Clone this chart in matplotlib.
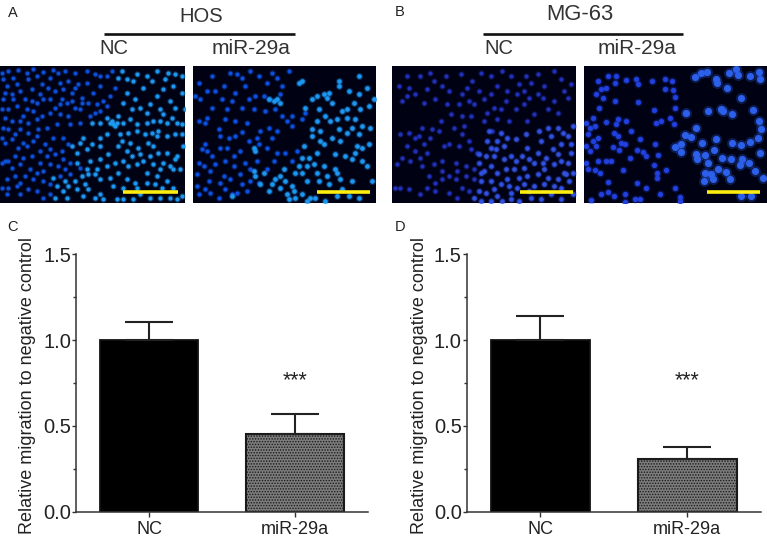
import matplotlib
matplotlib.use('Agg')
import matplotlib.pyplot as plt

plt.rcParams['font.family'] = ['Liberation Sans', 'DejaVu Sans']
plt.rcParams['hatch.linewidth'] = 0.7

W, H = 767, 539

groups = ['NC', 'miR-29a']
hos_means = [1.0, 0.45]
hos_err = [0.105, 0.12]
mg63_means = [1.0, 0.31]
mg63_err = [0.14, 0.065]
y_ticks = [0.0, 0.5, 1.0, 1.5]
y_minor = [0.25, 0.75, 1.25]

a1_dim = [(10,38),(40,35),(20,60),(8,100),(35,85),(60,75),(75,100),(85,40),(110,30),(125,55),(150,35),(175,20),(180,50),(165,75),(185,100),(205,45),(215,80),(235,55),(245,95),(225,125),(200,110),(165,125),(130,100),(110,110),(100,135),(80,130),(50,120),(25,130),(15,155),(35,165),(10,185),(25,190),(60,165),(85,170),(110,160),(125,150),(150,140),(180,145),(205,150),(240,130),(265,110),(280,80),(300,60),(320,30),(335,15),(345,65),(330,90),(290,115),(310,105),(270,150),(300,135),(320,120),(45,205),(70,230),(55,245),(80,240),(100,225),(110,210),(135,235),(160,215),(150,250),(165,265),(140,270),(120,290),(150,295),(175,300),(195,310),(210,325),(90,310),(60,295),(35,305),(15,285),(5,290),(25,285),(75,330),(100,340),(130,345),(150,355),(25,365),(50,360),(5,365),(20,385),(60,385),(85,370),(110,375),(130,395),(150,385),
          (5,20),(25,15),(55,12),(80,20),(100,10),(130,18),(160,12),(195,15),(225,20),(260,15),(285,25),(15,80),(50,55),(95,70),(145,65),(190,70),(225,65),(260,50),(300,30),(5,130),(40,100),(70,150),(95,105),(120,85),(150,100),(180,115),(245,110),(215,105),(285,140),(240,170),(210,175),(170,175),(140,185),(115,190),(85,200),(60,190),(35,220),(15,230),(5,215),(190,215),(205,235),(185,255),(120,255),(95,270),(70,275),(45,270),(190,280),(210,290),(240,305),(45,330),(20,340),(60,350),(110,320),(130,315),(180,330)]
a1_bright = [(410,25),(400,45),(380,40),(355,35),(470,15),(505,20),(525,25),(495,40),(490,70),(545,30),(430,65),(405,100),(450,115),(480,130),(490,145),(525,125),(420,125),(460,165),(480,165),(500,170),(515,155),(530,170),(545,175),(335,165),(345,180),(355,150),(320,155),(300,170),(275,170),(410,175),(440,170),(385,200),(410,195),(475,195),(470,210),(360,205),(320,205),(300,215),(250,215),(240,230),(215,240),(230,260),(260,250),(275,235),(355,240),(365,225),(390,230),(415,245),(445,230),(460,240),(550,240),(530,270),(525,280),(490,290),(510,300),(540,310),(475,260),(450,270),(420,265),(395,270),(370,285),(385,300),(410,295),(325,265),(300,240),(290,310),(260,310),(230,290),(205,360),(225,345),(265,325),(285,325),(320,300),(355,320),(380,340),(405,350),(410,365),(440,320),(470,330),(500,345),(520,310),(480,310),(160,335),(170,360),(195,345),(300,385),(285,395),(340,360),(370,365),(420,385),(230,370),(265,370),(350,400),(310,400),(400,400),(530,400),(545,390),(165,395),
             (365,15),(440,30),(455,45),(520,60),(470,90),(380,80),(370,110),(395,130),(440,140),(510,105),(545,80),(555,130),(340,175),(330,172),(350,170),(370,170),(390,160),(435,205),(455,200),(500,210),(525,205),(545,205),(380,255),(430,285),(460,295),(500,260),(345,290),(300,280),(270,285),(245,330),(255,355),(300,340),(330,335),(440,350),(465,355),(485,365),(520,365),(250,390),(200,395),(190,375),(450,395),(480,395),(510,395),(370,400)]

a2_dim = [(60,30),(20,50),(70,75),(95,60),(90,100),(25,100),(115,20),(150,35),(175,15),(190,90),(150,125),(105,130),(185,130),(220,135),(45,155),(20,165),(40,170),(100,160),(130,165),(165,170),(230,185),(205,195),(150,198),(130,210),(85,210),(110,215),(170,225),(40,235),(30,250),(45,255),(85,245),(105,245),(200,235),(240,215),(280,260),(300,180),(300,150),(285,165),(330,160),(340,140),(255,35),(270,60),(265,85),(240,20),(290,15),(215,90),(230,100),(35,300),(55,315),(15,325),(95,330),(100,285),(60,270),(125,300),(160,290),(195,285),(245,285),(15,360),(40,370),(55,380),(85,350),(115,340),(145,325),(20,385),(80,395),(120,385),(135,380),(165,375),(100,370),(200,350),
          (135,25),(200,30),(225,50),(160,60),(130,80),(45,75),(10,90),(60,125),(120,105),(170,100),(250,130),(270,150),(80,190),(195,215),(225,245),(145,255),(125,270),(70,295),(20,290),(175,310),(225,310),(50,345),(150,355),(175,345),(255,260),(300,285),(315,255),(255,195)]
a2_bright = [(320,50),(330,45),(395,85),(410,80),(375,90),(405,95),(440,60),(470,75),(500,85),(525,65),(505,130),(465,130),(450,135),(485,110),(490,160),(435,160),(415,165),(375,165),(360,190),(385,195),(420,215),(445,225),(535,185),(510,180),(480,185),(465,155),(230,100),(245,105),(265,112),(255,100),(385,225),(395,235),(375,260),(335,240),(330,275),(350,275),(495,240),(510,245),(490,262),(460,270),(480,280),(510,285),(525,300),(395,300),(430,310),(435,320),(375,320),(380,345),(445,340),(410,355),(320,300),(310,320),(345,345),(330,320),(275,310),(265,330),(250,340),(215,320),(185,315),(190,330),(240,355),(205,355),(300,360),(305,375),(285,385),(310,395),(290,400),(330,385),(370,395),(400,405),(470,390),(500,395),(435,390),(190,255),(185,245),(120,390),(345,405),
             (500,30),(440,45),(420,110),(380,130),(530,120),(545,100),(400,150),(440,190),(465,200),(340,125),(360,100),(530,235),(430,265),(345,300),(365,295),(405,330),(280,345),(230,375),(265,365),(355,395),(450,370),(480,345),(540,345),(360,210),(500,205)]

b1_dim = [(50,30),(90,30),(55,65),(75,85),(35,105),(130,45),(175,75),(215,85),(205,115),(170,115),(135,100),(250,115),(265,75),(300,30),(320,60),(280,100),(310,125),(345,105),(240,150),(215,150),(180,145),(150,165),(190,185),(125,190),(95,185),(220,180),(30,205),(55,200),(75,215),(50,240),(100,235),(120,215),(160,240),(175,235),(215,205),(235,225),(20,295),(35,275),(60,285),(90,275),(95,300),(130,295),(155,285),(195,290),(200,315),(175,330),(225,330),(135,350),(115,330),(195,340),(30,365),(15,365),(55,370),(90,385),(135,375),(175,380),(155,340),(240,250),(260,260),(320,160),(355,165),(305,195),(280,165),(385,55),(400,75),(420,50),(380,85),(400,115),(440,85),(455,95),(490,105),(460,60),(490,15),(520,75),(530,95),(430,145),(410,165),
          (120,20),(165,30),(210,25),(245,45),(270,20),(335,15),(360,30),(350,75),(300,85),(230,65),(155,60),(110,70),(25,60),(50,90),(100,110),(235,105),(290,140),(330,130),(375,130),(415,95),(470,130),(500,140),(540,55),(510,40),(440,25),(405,30),(85,210),(145,195),(205,240),(110,260),(75,255),(225,300),(250,310),(155,315),(250,340),(215,365),(235,375),(200,395),(110,365)]
b1_bright = [(265,290),(285,270),(300,245),(320,225),(340,240),(295,195),(330,200),(350,215),(310,270),(340,280),(300,300),(280,315),(320,320),(345,310),(370,310),(350,340),(330,355),(300,345),(270,345),(250,395),(285,380),(320,390),(360,380),(395,270),(410,245),(450,225),(480,210),(510,235),(530,210),(470,185),(500,185),(440,260),(465,275),(500,265),(530,290),(400,305),(430,290),(460,310),(490,295),(525,325),(385,335),(410,330),(440,325),(470,335),(500,340),(520,320),(400,355),(430,360),(460,355),(490,360),(510,365),(420,395),(360,400),(450,400),(540,260),(545,320),
             (270,320),(265,265),(290,225),(315,250),(360,270),(375,285),(415,280),(485,250),(540,235),(515,200),(545,180),(445,195),(405,205),(375,220),(455,290),(510,285),(355,360),(380,365),(310,370),(265,375),(335,405),(385,405),(415,375),(480,385),(535,345),(510,400),(545,385),(300,405),(270,405)]

b2_small = [(45,45),(75,30),(100,30),(128,42),(160,40),(165,55),(95,50),(55,70),(70,65),(40,85),(60,95),(97,105),(165,108),(47,125),(207,45),(245,40),(268,45),(245,68),(270,72),(275,92),(212,133),(275,125),(305,140),(260,157),(272,175),(235,165),(220,172),(30,155),(70,167),(105,160),(128,165),(100,175),(10,170),(20,185),(35,180),(15,205),(45,215),(30,225),(40,240),(10,240),(20,255),(92,200),(105,210),(115,230),(125,235),(90,242),(108,252),(145,195),(172,218),(215,235),(163,252),(180,258),(190,270),(142,277),(225,268),(45,285),(70,285),(85,285),(10,290),(15,310),(37,312),(52,320),(120,312),(212,297),(250,312),(222,322),(222,337),(75,347),(162,350),(190,365),(55,385),(75,378),(125,383),(92,390),(155,400),(170,400),(25,403),(125,407),(275,367),(232,383),(290,392),(290,405)]
b2_large = [(335,32),(355,20),(372,17),(400,40),(403,50),(438,22),(460,10),(465,27),(500,30),(528,18),(530,38),(432,67),(473,95),(375,135),(420,135),(447,145),(510,132),(310,140),(527,165),(535,190),(340,187),(305,207),(325,212),(357,230),(275,242),(295,235),(295,258),(400,218),(392,252),(340,265),(343,280),(367,268),(375,290),(418,275),(445,280),(447,232),(475,238),(500,228),(525,215),(530,262),(470,298),(477,280),(497,292),(515,315),(540,335),(405,308),(385,325),(365,320),(362,345),(430,318),(440,340),(390,340),(475,390),(505,390),(415,128)]


def pixel_axes(fig, x0, y0, x1, y1):
    return fig.add_axes([x0 / W, 1 - y1 / H, (x1 - x0) / W, (y1 - y0) / H])


def draw_cells(ax, cells, color, size):
    xs = [c[0] for c in cells]
    ys = [c[1] for c in cells]
    ax.scatter(xs, ys, s=size * 2.4, color=color, alpha=0.28, linewidths=0)
    ax.scatter(xs, ys, s=size, color=color, linewidths=0)


def micrograph(fig, box, xlim, layers, bar):
    ax = pixel_axes(fig, *box)
    ax.set_facecolor('#010114')
    ax.set_xlim(*xlim)
    ax.set_ylim(411, 0)
    ax.set_xticks([])
    ax.set_yticks([])
    for s in ax.spines.values():
        s.set_visible(False)
    for cells, color, size in layers:
        draw_cells(ax, cells, color, size)
    ax.plot(bar, [378, 378], color='#ffee10', lw=2.6, solid_capstyle='butt')


def bar_panel(fig, box, means, errs):
    ax = pixel_axes(fig, *box)
    x = [0, 1]
    ax.bar(x[0], means[0], width=0.674, color='black', edgecolor='#111111', linewidth=1.3)
    ax.bar(x[1], means[1], width=0.674, color='#7c7c7c', edgecolor='#1a1a1a', linewidth=1.3,
           hatch='......')
    # hatch draws in the edge colour, so outline again on top
    ax.bar(x[1], means[1], width=0.674, fill=False, edgecolor='#1a1a1a', linewidth=1.5)
    ax.errorbar(x, means, yerr=[[0, 0], errs], fmt='none', ecolor='#222222', elinewidth=1.5,
                capsize=17.3, capthick=1.5)
    ax.text(1, 0.765, '***', ha='center', va='center', fontsize=15.5, color='#222222')
    ax.set_xlim(-0.5, 1.5)
    ax.set_ylim(0, 1.5)
    ax.set_xticks(x)
    ax.set_xticklabels(groups, fontsize=13)
    ax.set_yticks(y_ticks)
    ax.set_yticklabels(['0.0', '0.5', '1.0', '1.5'], fontsize=14.5)
    ax.set_yticks(y_minor, minor=True)
    ax.tick_params(axis='x', which='major', length=3.5, width=1, color='#333333',
                   labelcolor='#222222', pad=3)
    ax.tick_params(axis='y', which='major', length=3, width=1, color='#333333',
                   labelcolor='#222222', pad=0.5)
    ax.tick_params(axis='y', which='minor', length=2, width=1, color='#333333')
    for s in ['top', 'right']:
        ax.spines[s].set_visible(False)
    for s in ['left', 'bottom']:
        ax.spines[s].set_linewidth(1.1)
        ax.spines[s].set_color('#333333')
    return ax


fig = plt.figure(figsize=(W / 100, H / 100), dpi=100)

micrograph(fig, (0, 66, 185, 203), (0, 555),
           [(a1_dim, '#0c50d8', 8), (a1_bright, '#1c98f0', 9)], [370, 533])
micrograph(fig, (193, 66, 376, 203), (3, 552),
           [(a2_dim, '#0c50e0', 9), (a2_bright, '#1c98f2', 11)], [374, 533])
micrograph(fig, (392, 66, 576, 203), (5, 555),
           [(b1_dim, '#2030b8', 9), (b1_bright, '#3050e0', 11)], [387, 546])
micrograph(fig, (584, 66, 767, 203), (3, 552),
           [(b2_small, '#2040e0', 14), (b2_large, '#2c60ea', 26)], [372, 531])

bar_panel(fig, (76, 254.3, 368, 511.7), hos_means, hos_err)
bar_panel(fig, (466.7, 254.3, 760.7, 511.7), mg63_means, mg63_err)

# free text and header rules in figure pixels
overlay = fig.add_axes([0, 0, 1, 1], facecolor='none')
overlay.set_xlim(0, W)
overlay.set_ylim(H, 0)
overlay.axis('off')
overlay.plot([104, 295], [34.3, 34.3], color='#111111', lw=1.9, solid_capstyle='butt')
overlay.plot([483, 683], [33.5, 33.5], color='#111111', lw=1.9, solid_capstyle='butt')

txt = '#333333'
overlay.text(201, 16, 'HOS', ha='center', va='center', fontsize=14.5, color=txt)
overlay.text(114, 49, 'NC', ha='center', va='center', fontsize=14.5, color=txt)
overlay.text(251, 49, 'miR-29a', ha='center', va='center', fontsize=15, color=txt)
overlay.text(580, 15, 'MG-63', ha='center', va='center', fontsize=15.8, color=txt)
overlay.text(499, 49, 'NC', ha='center', va='center', fontsize=14.5, color=txt)
overlay.text(637, 49, 'miR-29a', ha='center', va='center', fontsize=15, color=txt)

for label, lx, ly in [('A', 13, 13), ('B', 400, 12), ('C', 13, 227), ('D', 400, 227)]:
    overlay.text(lx, ly, label, ha='center', va='center', fontsize=10.5, color='#222222')

ylabel = 'Relative migration to negative control'
overlay.text(28, 386, ylabel, rotation=90, ha='center', va='center', fontsize=13, color='#222222')
overlay.text(420, 386, ylabel, rotation=90, ha='center', va='center', fontsize=13, color='#222222')

fig.savefig('out.png', dpi=100)
